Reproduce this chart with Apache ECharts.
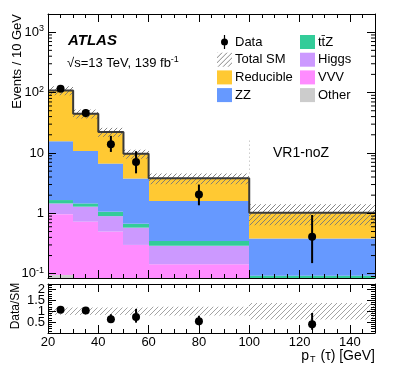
<!DOCTYPE html>
<html>
<head>
    <meta charset="utf-8">
    <script src="https://cdn.jsdelivr.net/npm/echarts@6/dist/echarts.min.js"></script>
</head>
<body style="margin: 0">
    <div id="container" style="width: 395px; height: 379px"></div>
    <script type="text/javascript">

        // bins in pT(tau), events per 10 GeV
        const binEdges = [20, 30, 40, 50, 60, 100, 150];
        const other = [0.095, 0.02, 0.02, 0.015, 0.01, 0.005];
        const vvv = [0.875, 0.71, 0.48, 0.285, 0.134, 0.015];
        const higgs = [0.49, 0.56, 0.40, 0.28, 0.146, 0.04];
        const ttz = [0.20, 0.17, 0.16, 0.09, 0.06, 0.033];
        const zz = [14.0, 9.3, 5.6, 3.1, 1.25, 0.29];
        const reducible = [93, 34, 15.6, 5.9, 2.2, 0.64];
        const sysUnc = [0.17, 0.17, 0.17, 0.17, 0.2, 0.38];   // relative

        const dataY = [116, 46, 14, 7.1, 2.06, 0.41];
        const dataLo = [105, 39, 10.4, 4.6, 1.36, 0.15];
        const dataHi = [127, 53, 19.2, 10.7, 3.0, 0.94];

        const divider = [100, 16, 4.6];  // dotted line x, from, to

        const yMin = 0.085, yMax = 2000;
        const FONT = 'Liberation Sans';

        function hatch(color) {
            const c = document.createElement('canvas');
            c.width = 5; c.height = 5;
            const g = c.getContext('2d');
            g.strokeStyle = color;
            g.lineWidth = 0.9;
            g.beginPath();
            g.moveTo(0, 5); g.lineTo(5, 0);
            g.moveTo(-1, 1); g.lineTo(1, -1);
            g.moveTo(4, 6); g.lineTo(6, 4);
            g.stroke();
            return { image: c, repeat: 'repeat' };
        }

        function boxItem(lowClamp) {
            return function (params, api) {
                const lo = Math.max(api.value(2), lowClamp);
                const hi = api.value(3);
                if (hi <= lowClamp) return;
                const p0 = api.coord([api.value(0), hi]);
                const p1 = api.coord([api.value(1), lo]);
                const x0 = Math.round(p0[0]), x1 = Math.round(p1[0]);
                return {
                    type: 'rect',
                    shape: { x: x0, y: p0[1], width: x1 - x0, height: p1[1] - p0[1] },
                    style: { fill: api.visual('color') }
                };
            };
        }

        function pointItem(lowClamp) {
            return function (params, api) {
                const c = api.coord([api.value(0), api.value(1)]);
                const a = api.coord([api.value(0), Math.max(api.value(2), lowClamp)]);
                const b = api.coord([api.value(0), api.value(3)]);
                return {
                    type: 'group',
                    children: [
                        { type: 'line', shape: { x1: a[0], y1: a[1], x2: b[0], y2: b[1] }, style: { stroke: '#000', lineWidth: 2 } },
                        { type: 'circle', shape: { cx: c[0], cy: c[1], r: 4 }, style: { fill: '#000' } }
                    ]
                };
            };
        }

        const comps = [
            { name: 'Other', vals: other, color: '#cccccc' },
            { name: 'VVV', vals: vvv, color: '#ff8cff' },
            { name: 'Higgs', vals: higgs, color: '#cc99ff' },
            { name: 't\u0074\u0304Z', vals: ttz, color: '#33cc99' },
            { name: 'ZZ', vals: zz, color: '#6699ff' },
            { name: 'Reducible', vals: reducible, color: '#ffc933' }
        ];

        const series = [];
        const total = binEdges.slice(1).map(() => 0);
        comps.forEach(comp => {
            const rows = comp.vals.map((v, i) => {
                const lo = total[i];
                total[i] += v;
                return [binEdges[i], binEdges[i + 1], Math.max(lo, yMin), total[i]];
            });
            series.push({
                type: 'custom', name: comp.name, xAxisIndex: 0, yAxisIndex: 0,
                renderItem: boxItem(yMin), clip: true, z: 2,
                itemStyle: { color: comp.color },
                encode: { x: [0, 1], y: [2, 3] },
                data: rows
            });
        });

        const centers = binEdges.slice(1).map((e, i) => (e + binEdges[i]) / 2);

        // total SM uncertainty band
        series.push({
            type: 'custom', name: 'Total SM', xAxisIndex: 0, yAxisIndex: 0,
            renderItem: boxItem(yMin), clip: true, z: 3,
            itemStyle: { color: hatch('#777') },
            encode: { x: [0, 1], y: [2, 3] },
            data: total.map((t, i) => [binEdges[i], binEdges[i + 1], t * (1 - sysUnc[i]), t * (1 + sysUnc[i])])
        });

        // total SM outline
        series.push({
            type: 'line', name: 'totalLine', xAxisIndex: 0, yAxisIndex: 0,
            step: 'end', symbol: 'none', z: 4,
            lineStyle: { color: '#3a3a3a', width: 2 },
            data: binEdges.map((e, i) => [e, total[Math.min(i, total.length - 1)]]),
            markLine: {
                silent: true, symbol: 'none', label: { show: false },
                lineStyle: { type: [1, 3], color: '#b0b0b0', width: 1 },
                data: [[{ coord: [divider[0], divider[1]] }, { coord: [divider[0], divider[2]] }]]
            }
        });

        series.push({
            type: 'custom', name: 'Data', xAxisIndex: 0, yAxisIndex: 0,
            renderItem: pointItem(yMin), clip: true, z: 5,
            itemStyle: { color: '#000' },
            encode: { x: 0, y: [1, 2, 3] },
            data: centers.map((x, i) => [x, dataY[i], dataLo[i], dataHi[i]])
        });

        // log minor ticks on the main panel (left and right edges)
        const minorVals = [];
        for (let k = -2; k <= 3; k++) {
            for (let m = 2; m <= 9; m++) {
                const v = m * Math.pow(10, k);
                if (v > yMin && v < yMax) minorVals.push([v]);
            }
        }
        series.push({
            type: 'custom', name: 'minorTicks', xAxisIndex: 0, yAxisIndex: 0,
            silent: true, z: 11,
            encode: { y: 0 },
            renderItem: function (params, api) {
                const y = api.coord([20, api.value(0)])[1];
                const L = params.coordSys.x, R = params.coordSys.x + params.coordSys.width;
                return {
                    type: 'group', children: [
                        { type: 'line', shape: { x1: L, y1: y, x2: L + 4, y2: y }, style: { stroke: '#000', lineWidth: 1 } },
                        { type: 'line', shape: { x1: R - 4, y1: y, x2: R, y2: y }, style: { stroke: '#000', lineWidth: 1 } }
                    ]
                };
            },
            data: minorVals
        });

        // ratio panel
        series.push({
            type: 'custom', name: 'ratioBand', xAxisIndex: 2, yAxisIndex: 2,
            renderItem: boxItem(0), clip: true, z: 3,
            itemStyle: { color: hatch('#999') },
            encode: { x: [0, 1], y: [2, 3] },
            data: total.map((t, i) => [binEdges[i], binEdges[i + 1], 1 - sysUnc[i], 1 + sysUnc[i]])
        });
        series.push({
            type: 'custom', name: 'ratio', xAxisIndex: 2, yAxisIndex: 2,
            renderItem: pointItem(0), clip: true, z: 5,
            itemStyle: { color: '#000' },
            encode: { x: 0, y: [1, 2, 3] },
            data: centers.map((x, i) => [x, dataY[i] / total[i], dataLo[i] / total[i], dataHi[i] / total[i]])
        });

        const tickStyle = { lineStyle: { color: '#000', width: 1 } };
        function xAx(grid, pos, labels) {
            return {
                type: 'value', gridIndex: grid, position: pos, min: 20, max: 150, interval: 20, z: 10,
                axisLine: { show: true, onZero: false, lineStyle: { color: '#000', width: 1 } },
                axisTick: { show: true, inside: true, length: 8, ...tickStyle },
                minorTick: { show: true, splitNumber: 4, length: 4, ...tickStyle },
                splitLine: { show: false },
                axisLabel: {
                    show: labels, margin: 3, fontFamily: FONT, fontSize: 13, color: '#000',
                    showMaxLabel: false
                }
            };
        }

        const supLabel = {
            b: { fontFamily: FONT, fontSize: 13, color: '#000' },
            s: { fontFamily: FONT, fontSize: 9, color: '#000', padding: [0, 0, 7, 0] }
        };
        function logLabel(v) {
            const k = Math.round(Math.log10(v));
            if (Math.abs(Math.log10(v) - k) > 1e-6) return '';
            if (k === 0) return '{b|1}';
            if (k === 1) return '{b|10}';
            return '{b|10}{s|' + k + '}';
        }
        function yLog(pos, labels) {
            return {
                type: 'log', logBase: 10, gridIndex: 0, position: pos, min: yMin, max: yMax, z: 10,
                axisLine: { show: true, lineStyle: { color: '#000', width: 1 } },
                axisTick: { show: true, inside: true, length: 8, ...tickStyle },
                splitLine: { show: false },
                axisLabel: { show: labels, margin: 4, formatter: logLabel, rich: supLabel }
            };
        }
        function yRatio(pos, labels) {
            return {
                type: 'value', gridIndex: 1, position: pos, min: 0, max: 2.25, interval: 0.5, z: 10,
                axisLine: { show: true, lineStyle: { color: '#000', width: 1 } },
                axisTick: { show: true, inside: true, length: 8, ...tickStyle },
                minorTick: { show: true, splitNumber: 5, length: 4, ...tickStyle },
                splitLine: { show: false },
                axisLabel: {
                    show: labels, margin: 3, fontFamily: FONT, fontSize: 13, color: '#000',
                    formatter: v => (Math.abs(v * 2 - Math.round(v * 2)) < 1e-6 ? String(v) : '')
                }
            };
        }

        const dataIcon = 'path://M6.4,0H7.6V3.6H6.4Z M6.4,10.4H7.6V14H6.4Z M3.5,7A3.5,3.5 0 1 0 10.5,7A3.5,3.5 0 1 0 3.5,7Z';
        const legendBase = {
            orient: 'vertical', top: 30, itemWidth: 15, itemHeight: 14, itemGap: 3.7,
            selectedMode: false,
            textStyle: { fontFamily: FONT, fontSize: 13, color: '#000', padding: [0, 0, 0, -2] }
        };

        const chart = echarts.init(document.getElementById('container'));
        chart.setOption({
            animation: false,
            backgroundColor: '#fff',
            grid: [
                { left: 48, top: 14, width: 327, height: 264 },
                { left: 48, top: 284, width: 327, height: 49 }
            ],
            xAxis: [xAx(0, 'bottom', false), xAx(0, 'top', false), xAx(1, 'bottom', true), xAx(1, 'top', false)],
            yAxis: [yLog('left', true), yLog('right', false), yRatio('left', true), yRatio('right', false)],
            legend: [
                Object.assign({}, legendBase, {
                    left: 212,
                    data: [{ name: 'Data', icon: dataIcon }, { name: 'Total SM', icon: 'rect' },
                        { name: 'Reducible', icon: 'rect' }, { name: 'ZZ', icon: 'rect' }]
                }),
                Object.assign({}, legendBase, {
                    left: 295,
                    data: [{ name: 't\u0074\u0304Z', icon: 'rect' }, { name: 'Higgs', icon: 'rect' },
                        { name: 'VVV', icon: 'rect' }, { name: 'Other', icon: 'rect' }]
                })
            ],
            graphic: [
                {
                    type: 'text', left: 68, top: 33,
                    style: { text: 'ATLAS', font: 'italic bold 15px "Liberation Sans"', fill: '#000' }
                },
                {
                    type: 'text', left: 67, top: 55,
                    style: {
                        text: '\u221as=13 TeV, 139 fb{s|-1}', fill: '#000',
                        font: '13px "Liberation Sans"',
                        rich: { s: { fontFamily: FONT, fontSize: 9, padding: [0, 0, 7, 0] } }
                    }
                },
                {
                    type: 'text', left: 273, top: 146,
                    style: { text: 'VR1-noZ', font: '14px "Liberation Sans"', fill: '#000' }
                },
                {
                    type: 'text', x: 17, y: 14, rotation: Math.PI / 2,
                    style: { text: 'Events / 10 GeV', font: '13px "Liberation Sans"', fill: '#000', align: 'right', verticalAlign: 'middle' }
                },
                {
                    type: 'text', x: 16, y: 306, rotation: Math.PI / 2,
                    style: { text: 'Data/SM', font: '12px "Liberation Sans"', fill: '#000', align: 'center', verticalAlign: 'middle' }
                },
                {
                    type: 'text', right: 20, top: 349,
                    style: {
                        text: 'p{t|T} (\u03c4) [GeV]', font: '14px "Liberation Sans"', fill: '#000',
                        rich: { t: { fontFamily: FONT, fontSize: 9, padding: [8, 1, 0, 1] } }
                    }
                }
            ],
            series: series
        });

    </script>
</body>
</html>
